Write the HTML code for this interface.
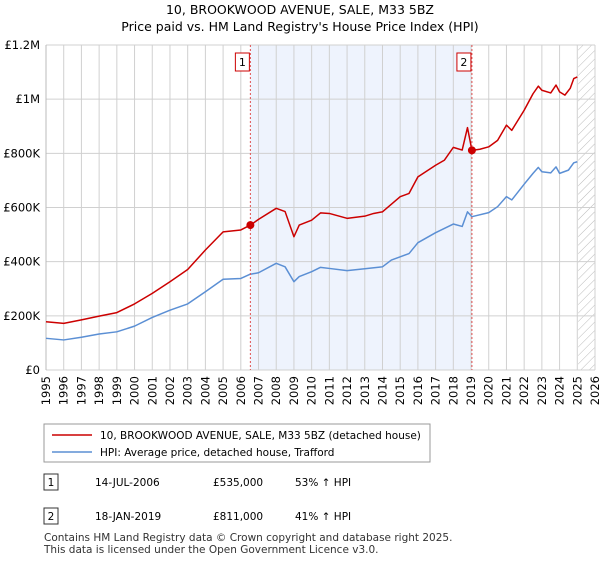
<!DOCTYPE html>
<html><head><meta charset="utf-8"><style>
body{margin:0;background:#fff;font-family:"Liberation Sans","DejaVu Sans",sans-serif;}
svg text{font-family:"DejaVu Sans","Liberation Sans",sans-serif;}
</style></head><body>
<svg width="600" height="560" xmlns="http://www.w3.org/2000/svg">
<defs><pattern id="hatch" width="6" height="6" patternUnits="userSpaceOnUse" patternTransform="rotate(45)"><line x1="0" y1="0" x2="0" y2="6" stroke="#bbb" stroke-width="1"/></pattern></defs>
<text x="300" y="14" text-anchor="middle" font-size="12.5" fill="#000">10, BROOKWOOD AVENUE, SALE, M33 5BZ</text>
<text x="300" y="31" text-anchor="middle" font-size="12.5" fill="#000">Price paid vs. HM Land Registry's House Price Index (HPI)</text>
<g id="plot"></g>
<g>
<rect x="44" y="424" width="386" height="38" fill="#fff" stroke="#999"/>
<line x1="52" y1="435" x2="92" y2="435" stroke="#cc0000" stroke-width="1.5"/>
<text x="100" y="439" font-size="10.5">10, BROOKWOOD AVENUE, SALE, M33 5BZ (detached house)</text>
<line x1="52" y1="452" x2="92" y2="452" stroke="#5b8fd4" stroke-width="1.5"/>
<text x="100" y="456" font-size="10.5">HPI: Average price, detached house, Trafford</text>
</g>
<g font-size="10.5">
<rect x="44" y="474" width="14" height="16" fill="#fff" stroke="#333"/><text x="51" y="486" text-anchor="middle">1</text>
<text x="95" y="486">14-JUL-2006</text><text x="213" y="486">£535,000</text><text x="295" y="486">53% ↑ HPI</text>
<rect x="44" y="508" width="14" height="16" fill="#fff" stroke="#333"/><text x="51" y="520" text-anchor="middle">2</text>
<text x="95" y="520">18-JAN-2019</text><text x="213" y="520">£811,000</text><text x="295" y="520">41% ↑ HPI</text>
</g>
<text x="44" y="541" font-size="10.5" fill="#333">Contains HM Land Registry data © Crown copyright and database right 2025.</text>
<text x="44" y="553" font-size="10.5" fill="#333">This data is licensed under the Open Government Licence v3.0.</text>
</svg>
<script>
const yTicks=[0,200000,400000,600000,800000,1000000,1200000];
const yTickLabels=["£0","£200K","£400K","£600K","£800K","£1M","£1.2M"];
const years=[1995,1996,1997,1998,1999,2000,2001,2002,2003,2004,2005,2006,2007,2008,2009,2010,2011,2012,2013,2014,2015,2016,2017,2018,2019,2020,2021,2022,2023,2024,2025,2026];
const priceT=[1995,1996,1997,1998,1999,2000,2001,2002,2003,2004,2005,2006,2006.54,2007,2008,2008.5,2009,2009.3,2010,2010.5,2011,2012,2013,2013.5,2014,2015,2015.5,2016,2017,2017.5,2018,2018.5,2018.8,2019.05,2019.5,2020,2020.5,2021,2021.3,2022,2022.5,2022.8,2023,2023.5,2023.8,2024,2024.3,2024.6,2024.8,2025];
const priceV=[178,172,185,199,212,244,283,326,371,443,510,517,535,556,597,585,492,535,553,580,578,560,568,578,584,640,652,713,756,775,822,812,895,811,815,824,848,904,885,959,1020,1048,1033,1023,1052,1027,1015,1040,1076,1082];
const hpiT=[1995,1996,1997,1998,1999,2000,2001,2002,2003,2004,2005,2006,2006.5,2007,2008,2008.5,2009,2009.3,2010,2010.5,2011,2012,2013,2014,2014.5,2015,2015.5,2016,2017,2018,2018.5,2018.8,2019.05,2020,2020.5,2021,2021.3,2022,2022.5,2022.8,2023,2023.5,2023.8,2024,2024.5,2024.8,2025];
const hpiV=[117,111,121,133,141,162,194,221,244,289,335,338,353,359,394,381,326,345,363,379,375,367,374,381,406,418,430,470,507,539,530,584,566,581,603,640,628,686,726,748,732,728,750,726,738,765,769];
const sales=[{t:2006.54,v:535,label:"1"},{t:2019.05,v:811,label:"2"}];
const X0=46,X1=595,Y0=370,Y1=45;
const xs=t=>X0+(t-1995)/(2026-1995)*(X1-X0);
const ys=v=>Y0-v/1200000*(Y0-Y1);
const NS="http://www.w3.org/2000/svg";
const g=document.getElementById('plot');
function mk(tag,at){const e=document.createElementNS(NS,tag);for(const k in at)e.setAttribute(k,at[k]);g.appendChild(e);return e;}
let r=mk('rect',{x:xs(sales[0].t),y:Y1,width:xs(sales[1].t)-xs(sales[0].t),height:Y0-Y1,fill:'#eef3fd'});


let h=mk('rect',{x:xs(2025.05),y:Y1,width:X1-xs(2025.05),height:Y0-Y1,fill:'url(#hatch)'});


years.forEach(y=>{
 let l=mk('line',{x1:xs(y),x2:xs(y),y1:Y1,y2:Y0,stroke:'#d0d0d0','stroke-width':1});
 
 
 let t=mk('text',{x:0,y:0,'font-size':11.5,'text-anchor':'end',transform:`translate(${xs(y)+4},${Y0+6}) rotate(-90)`});
 t.textContent=y;
 
 
});
yTicks.forEach((v,i)=>{
 let l=mk('line',{x1:X0,x2:X1,y1:ys(v),y2:ys(v),stroke:'#d0d0d0','stroke-width':1});
 
 
 let t=mk('text',{x:40,y:ys(v)+4,'font-size':11.5,'text-anchor':'end'});
 t.textContent=yTickLabels[i];
 
 
});
let ax=mk('line',{x1:X0,x2:X0,y1:Y1,y2:Y0,stroke:'#bbb'});


function line(T,V,c,name){
 let p=mk('polyline',{points:T.map((t,i)=>xs(t)+','+ys(V[i]*1000)).join(' '),fill:'none',stroke:c,'stroke-width':1.5,'stroke-linejoin':'round'});
 
 
}
line(hpiT,hpiV,'#5b8fd4','hpi-line');
line(priceT,priceV,'#cc0000','price-line');
sales.forEach(s=>{
 let l=mk('line',{x1:xs(s.t),x2:xs(s.t),y1:Y1,y2:Y0,stroke:'#e05050','stroke-dasharray':'2,2'});
 
 
 let d=mk('circle',{cx:xs(s.t),cy:ys(s.v*1000),r:4,fill:'#cc0000'});
 
 
 let b=mk('rect',{x:xs(s.t)-15,y:53,width:14,height:18,fill:'#fff',stroke:'#cc0000'});
 
 
 let t=mk('text',{x:xs(s.t)-8,y:66,'font-size':11,'text-anchor':'middle'});
 t.textContent=s.label;
 
 
});
</script>
</body></html>
